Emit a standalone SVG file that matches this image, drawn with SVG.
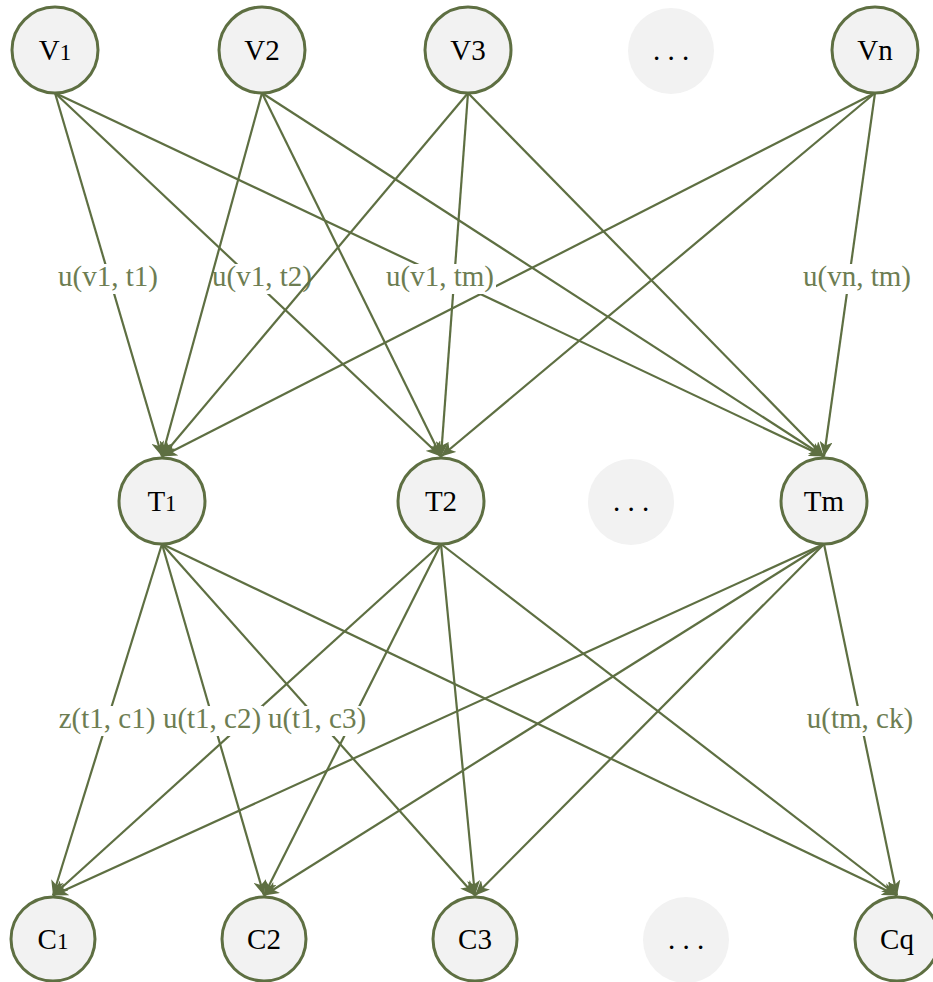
<svg xmlns="http://www.w3.org/2000/svg" width="933" height="982" viewBox="0 0 933 982">
<style>
.node{fill:#f2f2f2;stroke:#5e6f42;stroke-width:3}
.ghost{fill:#f2f2f2;stroke:none}
.nt{font-family:'Liberation Serif','Times New Roman',Times,'DejaVu Serif',serif;font-size:29px;fill:#000;text-anchor:middle}
.sm{font-size:23px}
.e{stroke:#5e6f42;stroke-width:2.2;fill:none;marker-end:url(#arr)}
.lb{fill:#fff}
.lt{font-family:'Liberation Serif','Times New Roman',Times,'DejaVu Serif',serif;font-size:29px;fill:#6d7d52;text-anchor:middle}
</style>
<defs>
<marker id="arr" viewBox="0 0 15 13" refX="15" refY="6.5" markerWidth="15" markerHeight="13" markerUnits="userSpaceOnUse" orient="auto">
<path d="M0,0 L15,6.5 L0,13 L4,6.5 Z" fill="#5e6f42"/>
</marker>
</defs>
<rect width="933" height="982" fill="#fff"/>
<g id="edges">
<line class="e" x1="468" y1="93" x2="441" y2="456.5"/>
<line class="e" x1="468" y1="93" x2="824" y2="456.5"/>
<line class="e" x1="875" y1="93" x2="162" y2="456.5"/>
<line class="e" x1="875" y1="93" x2="441" y2="456.5"/>
<line class="e" x1="55" y1="93" x2="162" y2="456.5"/>
<rect class="lb" x="56" y="264" width="104" height="30"/>
<text class="lt" x="108" y="286">u(v1, t1)</text>
<line class="e" x1="55" y1="93" x2="441" y2="456.5"/>
<rect class="lb" x="210" y="264" width="104" height="30"/>
<text class="lt" x="262" y="286">u(v1, t2)</text>
<line class="e" x1="55" y1="93" x2="824" y2="456.5"/>
<rect class="lb" x="384" y="264" width="112" height="30"/>
<text class="lt" x="440" y="286">u(v1, tm)</text>
<line class="e" x1="875" y1="93" x2="824" y2="456.5"/>
<rect class="lb" x="804" y="264" width="106" height="30"/>
<text class="lt" x="857" y="286">u(vn, tm)</text>
<line class="e" x1="262" y1="93" x2="162" y2="456.5"/>
<line class="e" x1="262" y1="93" x2="441" y2="456.5"/>
<line class="e" x1="262" y1="93" x2="824" y2="456.5"/>
<line class="e" x1="468" y1="93" x2="162" y2="456.5"/>
<line class="e" x1="441" y1="544" x2="53" y2="895.5"/>
<line class="e" x1="441" y1="544" x2="264" y2="895.5"/>
<line class="e" x1="441" y1="544" x2="475" y2="895.5"/>
<line class="e" x1="441" y1="544" x2="897" y2="895.5"/>
<line class="e" x1="824" y1="544" x2="53" y2="895.5"/>
<line class="e" x1="824" y1="544" x2="264" y2="895.5"/>
<line class="e" x1="824" y1="544" x2="475" y2="895.5"/>
<line class="e" x1="162" y1="544" x2="53" y2="895.5"/>
<rect class="lb" x="57" y="706" width="100" height="30"/>
<text class="lt" x="107" y="728">z(t1, c1)</text>
<line class="e" x1="162" y1="544" x2="264" y2="895.5"/>
<rect class="lb" x="161" y="706" width="102" height="30"/>
<text class="lt" x="212" y="728">u(t1, c2)</text>
<line class="e" x1="162" y1="544" x2="475" y2="895.5"/>
<rect class="lb" x="266" y="706" width="102" height="30"/>
<text class="lt" x="317" y="728">u(t1, c3)</text>
<line class="e" x1="162" y1="544" x2="897" y2="895.5"/>
<line class="e" x1="824" y1="544" x2="897" y2="895.5"/>
<rect class="lb" x="805" y="706" width="110" height="30"/>
<text class="lt" x="860" y="728">u(tm, ck)</text>
</g>
<g id="V1"><circle class="node" cx="55" cy="50" r="43"/><text class="nt" x="55" y="60">V<tspan class="sm">1</tspan></text></g>
<g id="V2"><circle class="node" cx="262" cy="50" r="43"/><text class="nt" x="262" y="60">V2</text></g>
<g id="V3"><circle class="node" cx="468" cy="50" r="43"/><text class="nt" x="468" y="60">V3</text></g>
<g id="Vdots"><circle class="ghost" cx="671" cy="51" r="43"/><text class="nt" x="671" y="60">. . .</text></g>
<g id="Vn"><circle class="node" cx="875" cy="50" r="43"/><text class="nt" x="875" y="60">Vn</text></g>
<g id="T1"><circle class="node" cx="162" cy="501" r="43"/><text class="nt" x="162" y="511">T<tspan class="sm">1</tspan></text></g>
<g id="T2"><circle class="node" cx="441" cy="501" r="43"/><text class="nt" x="441" y="511">T2</text></g>
<g id="Tdots"><circle class="ghost" cx="631" cy="502" r="43"/><text class="nt" x="631" y="511">. . .</text></g>
<g id="Tm"><circle class="node" cx="824" cy="501" r="43"/><text class="nt" x="824" y="511">Tm</text></g>
<g id="C1"><circle class="node" cx="53" cy="939" r="42"/><text class="nt" x="53" y="949">C<tspan class="sm">1</tspan></text></g>
<g id="C2"><circle class="node" cx="264" cy="939" r="42"/><text class="nt" x="264" y="949">C2</text></g>
<g id="C3"><circle class="node" cx="475" cy="939" r="42"/><text class="nt" x="475" y="949">C3</text></g>
<g id="Cdots"><circle class="ghost" cx="686" cy="940" r="43"/><text class="nt" x="686" y="949">. . .</text></g>
<g id="Cq"><circle class="node" cx="897" cy="939" r="42"/><text class="nt" x="897" y="949">Cq</text></g>
</svg>
